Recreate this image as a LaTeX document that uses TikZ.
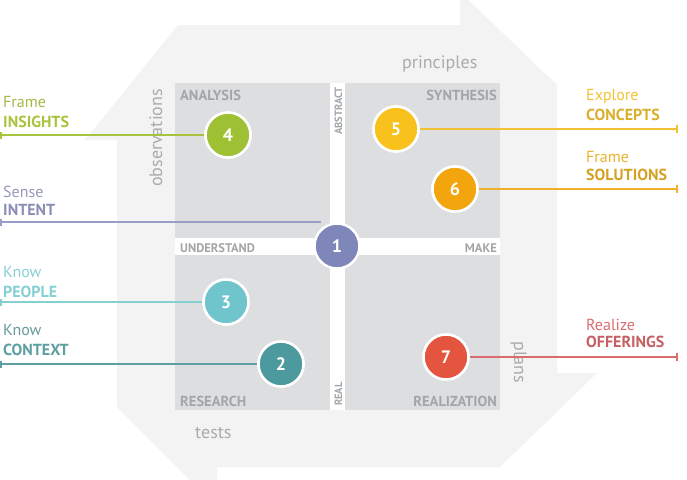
\documentclass[tikz,border=0pt]{standalone}
\usepackage{fontspec}
\setmainfont{PT Sans}
\usetikzlibrary{arrows.meta}
\definecolor{bgoct}{HTML}{F3F3F3}
\definecolor{quad}{HTML}{DDDEE0}
\definecolor{qtext}{HTML}{A4A5A9}
\definecolor{otext}{HTML}{ABABAB}
\definecolor{cone}{HTML}{7F86BA}
\definecolor{ctwo}{HTML}{4D9A9E}
\definecolor{cthree}{HTML}{6FC5CB}
\definecolor{cfour}{HTML}{9DC132}
\definecolor{cfive}{HTML}{F8C11C}
\definecolor{csix}{HTML}{F2A50C}
\definecolor{cseven}{HTML}{E4553F}
\definecolor{lone}{HTML}{9A9EC7}
\definecolor{ltwo}{HTML}{5E9FA2}
\definecolor{lthree}{HTML}{86D0D4}
\definecolor{lfour}{HTML}{A8C43C}
\definecolor{lfive}{HTML}{F2C232}
\definecolor{lsix}{HTML}{EDB22A}
\definecolor{lseven}{HTML}{DC6B70}
\tikzset{
  num/.style={circle, minimum size=45pt, inner sep=0pt, draw=white, line width=2.5pt,
    text=white, font=\fontsize{18}{18}\selectfont\bfseries},
  qlbl/.style={text=qtext, font=\fontsize{14.5}{15}\selectfont\bfseries, inner sep=0pt},
  alabel/.style={text=qtext, font=\fontsize{12.5}{13}\selectfont\bfseries, inner sep=0pt},
  slabel/.style={text=qtext, font=\fontsize{10.5}{10.5}\selectfont\bfseries, inner sep=0pt},
  olabel/.style={text=otext, font=\fontsize{18}{18}\selectfont, inner sep=0pt},
  toptxt/.style={font=\fontsize{16}{16}\selectfont, inner sep=0pt, anchor=base west},
  bottxt/.style={font=\fontsize{16}{16}\selectfont\bfseries, inner sep=0pt, anchor=base west},
  conn/.style={line width=1.8pt},
}
\begin{document}
\begin{tikzpicture}[x=1pt,y=-1pt]
\useasboundingbox (0,0) rectangle (687,479);
\begin{scope}
\clip (0,0) rectangle (687,479);
% background rotating band
\fill[bgoct] (178,25) -- (460,25) -- (460,-8) -- (557,85) -- (557,373) -- (597,373)
  -- (500,467) -- (217,467) -- (217,500) -- (210,500) -- (117,407) -- (117,140)
  -- (85,140) -- cycle;
\end{scope}
% quadrants
\fill[quad] (175,83) rectangle (500,410);
\fill[white] (330,83) rectangle (345,410);
\fill[white] (175,238) rectangle (500,255);
% quadrant labels
\node[qlbl, anchor=base west] (qa) at (180,100) {ANALYSIS};
\node[qlbl, anchor=base east] (qs) at (497,100) {SYNTHESIS};
\node[qlbl, anchor=base west] (qr) at (180,406) {RESEARCH};
\node[qlbl, anchor=base east] (qz) at (497,406) {REALIZATION};
\node[alabel, anchor=base west] (qu) at (180,252) {UNDERSTAND};
\node[alabel, anchor=base east] (qm) at (497,252) {MAKE};
\node[slabel, rotate=90, anchor=base east] (qab) at (342,87) {ABSTRACT};
\node[slabel, rotate=90, anchor=base west] (qre) at (342,406) {REAL};
% outer labels
\node[olabel, anchor=base west] (pr) at (402,68) {principles};
\node[olabel, anchor=base west] (te) at (195,438) {tests};
\node[olabel, rotate=90, anchor=base] (ob) at (162,138) {observations};
\node[olabel, rotate=-90, anchor=base] (pl) at (514,362) {plans};
% circles
\node[num, fill=cone] (c1) at (337,246) {1};
\node[num, fill=ctwo] (c2) at (281,364) {2};
\node[num, fill=cthree] (c3) at (226,302) {3};
\node[num, fill=cfour] (c4) at (228,135) {4};
\node[num, fill=cfive] (c5) at (396,129) {5};
\node[num, fill=csix] (c6) at (455,189) {6};
\node[num, fill=cseven] (c7) at (446,357) {7};
% connector ends
\coordinate (e4) at (0,135);
\coordinate (e1) at (0,222);
\coordinate (e1b) at (321,222);
\coordinate (e3) at (0,302);
\coordinate (e2) at (0,364);
\coordinate (e5) at (678,129);
\coordinate (e6) at (678,189);
\coordinate (e7) at (678,357);
% connectors
\draw[conn, lfour, {Bar[width=7pt]}-] (e4) -- (c4);
\draw[conn, lone, {Bar[width=7pt]}-] (e1) -- (e1b);
\draw[conn, lthree, {Bar[width=7pt]}-] (e3) -- (c3);
\draw[conn, ltwo, {Bar[width=7pt]}-] (e2) -- (c2);
\draw[conn, lfive, -{Bar[width=8pt]}] (c5) -- (e5);
\draw[conn, lsix, -{Bar[width=8pt]}] (c6) -- (e6);
\draw[conn, lseven, -{Bar[width=8pt]}] (c7) -- (e7);
% redraw circles on top of the connectors
\node[num, fill=cfour] at (c4) {4};
\node[num, fill=cthree] at (c3) {3};
\node[num, fill=ctwo] at (c2) {2};
\node[num, fill=cfive] at (c5) {5};
\node[num, fill=csix] at (c6) {6};
\node[num, fill=cseven] at (c7) {7};
% side texts
\node[toptxt, text=lfour!85!gray] (t4a) at (3,107) {Frame};
\node[bottxt, text=lfour] (t4b) at (3,127) {INSIGHTS};
\node[toptxt, text=lone!80!gray] (t1a) at (3,197) {Sense};
\node[bottxt, text=lone!90!black] (t1b) at (3,215) {INTENT};
\node[toptxt, text=lthree] (t3a) at (3,277) {Know};
\node[bottxt, text=lthree] (t3b) at (3,297) {PEOPLE};
\node[toptxt, text=ltwo!80!gray] (t2a) at (3,335) {Know};
\node[bottxt, text=ltwo] (t2b) at (3,355) {CONTEXT};
\node[toptxt, text=lfive] (t5a) at (586,100) {Explore};
\node[bottxt, text=lfive!90!black] (t5b) at (586,120) {CONCEPTS};
\node[toptxt, text=lsix] (t6a) at (586,162) {Frame};
\node[bottxt, text=lsix!90!black] (t6b) at (586,180) {SOLUTIONS};
\node[toptxt, text=lseven] (t7a) at (586,330) {Realize};
\node[bottxt, text=lseven!90!black] (t7b) at (586,347) {OFFERINGS};
\end{tikzpicture}
\end{document}
